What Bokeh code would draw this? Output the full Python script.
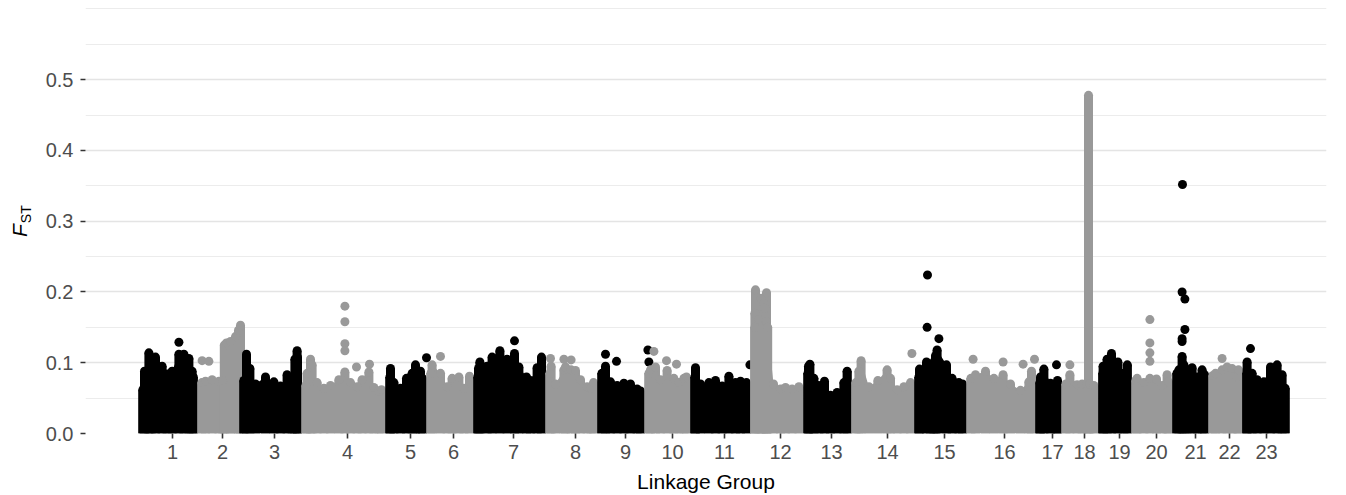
import numpy as np
from bokeh.plotting import figure
from bokeh.models import Range1d, FixedTicker, NumeralTickFormatter, Div
from bokeh.layouts import row
from bokeh.embed import file_html
from bokeh.resources import INLINE

# ---------------- data ----------------
groups = [str(i) for i in range(1, 24)]
# linkage group lengths (Mb)
lg_length = [29.5, 21, 31, 42, 20.5, 23.5, 36, 26, 23.5, 23, 30, 26.5,
             24, 31.5, 26, 34.5, 13, 18.5, 16.5, 20.5, 18, 17, 23.5]
# label position inside each group (Mb from group start)
lg_tick_pos = [17, 12.5, 17.5, 23, 12.5, 13.5, 20, 15, 14, 14, 17, 15,
               14, 18, 15, 19, 8.5, 11.5, 10.5, 12.5, 11.5, 10.5, 12]

# upper edge of the dense SNP cloud in each group (position Mb, Fst)
top_pos = [
    [2.2, 3.0, 5.2, 6.3, 8.5, 11.8, 14.3, 16.8, 20.2, 22.7, 25.2, 26.8, 27.4],
    [2.2, 4, 7.3, 10.7, 12.6, 13.4, 14.5, 16.5, 19, 20.5, 21.5],
    [2.2, 3.5, 5.2, 8, 13, 17.2, 20.5, 23.8, 26.3, 27.7, 28.8, 29.0],
    [2.2, 2.8, 4.5, 5.3, 7.8, 11.2, 14.5, 18.7, 21.7, 24.5, 27.8, 30.3, 33.7, 36.2, 38.7, 40],
    [2.2, 2.5, 4.2, 7.5, 10.5, 13.3, 15, 17.5, 18.5],
    [2.2, 2.8, 7, 10.3, 12.8, 16.2, 18.7, 21.5],
    [2.2, 2.5, 3.2, 6.8, 9.3, 13.2, 16.8, 20.5, 22.7, 26.5, 28.5, 31.8, 34.0],
    [2.2, 2.8, 5, 9.2, 10, 12.8, 15, 17.5, 20.8, 22.8, 24],
    [2.2, 4, 6.5, 9.8, 13.2, 16.5, 19.8, 21.5],
    [2.2, 3, 5.5, 8, 11.3, 14.7, 17.2, 19.7, 21],
    [2.2, 2.5, 5, 9.2, 12.5, 15.8, 19.2, 22.5, 25, 28],
    [2.2, 2.2, 2.5, 4.2, 5.3, 6.7, 7.2, 8.0, 8.0, 8.6, 11.5, 15, 17.5, 20.8, 24.2],
    [2.2, 2.5, 3.2, 5.2, 7.7, 10.5, 13.5, 16.8, 20.2, 21.8],
    [2.2, 3.7, 4.8, 8.7, 13.2, 17.8, 19.5, 22.8, 26.2, 29.5],
    [2.2, 2.5, 6, 8, 9.7, 10.5, 11.3, 16, 18.8, 22.2, 24],
    [2.2, 4.5, 9.5, 13.7, 18.3, 22, 27, 31.2, 32.5],
    [2.2, 2.5, 4.2, 7.5, 10.5, 11.0],
    [2.2, 4.2, 7.8, 10.3, 12.8, 13.5, 14.2, 16.2],
    [2.2, 2.3, 4.3, 6.5, 9.7, 12.7, 14.4],
    [2.2, 2.8, 6.2, 9.2, 12.5, 15.3, 17.8, 18.5],
    [2.2, 3.2, 4.8, 5.7, 7.3, 9.8, 12.3, 14.8, 16],
    [2.2, 3.5, 6.8, 9.3, 11.8, 14.3, 15],
    [2.2, 2.3, 4.8, 7.3, 10.7, 14, 17.3, 19.8, 21.3],
]
top_fst = [
    [0.062, 0.088, 0.114, 0.104, 0.108, 0.095, 0.084, 0.088, 0.112, 0.112, 0.106, 0.088, 0.080],
    [0.072, 0.074, 0.076, 0.074, 0.075, 0.125, 0.128, 0.130, 0.137, 0.146, 0.153],
    [0.075, 0.112, 0.092, 0.070, 0.080, 0.073, 0.067, 0.083, 0.070, 0.105, 0.117, 0.108],
    [0.068, 0.085, 0.105, 0.097, 0.072, 0.064, 0.068, 0.076, 0.087, 0.072, 0.066, 0.076, 0.087, 0.065, 0.060, 0.062],
    [0.080, 0.092, 0.072, 0.064, 0.078, 0.085, 0.097, 0.088, 0.078],
    [0.085, 0.097, 0.085, 0.066, 0.078, 0.080, 0.064, 0.081],
    [0.080, 0.092, 0.101, 0.095, 0.108, 0.117, 0.105, 0.113, 0.094, 0.080, 0.075, 0.093, 0.108],
    [0.085, 0.095, 0.070, 0.090, 0.094, 0.090, 0.089, 0.076, 0.066, 0.064, 0.072],
    [0.085, 0.095, 0.073, 0.068, 0.071, 0.070, 0.063, 0.060],
    [0.085, 0.090, 0.094, 0.076, 0.089, 0.078, 0.072, 0.078, 0.080],
    [0.080, 0.093, 0.070, 0.072, 0.075, 0.067, 0.081, 0.072, 0.074, 0.072],
    [0.150, 0.170, 0.203, 0.161, 0.191, 0.184, 0.177, 0.199, 0.158, 0.150, 0.070, 0.063, 0.065, 0.063, 0.066],
    [0.085, 0.095, 0.098, 0.078, 0.068, 0.074, 0.054, 0.058, 0.072, 0.088],
    [0.072, 0.088, 0.103, 0.066, 0.075, 0.090, 0.078, 0.062, 0.066, 0.072],
    [0.080, 0.091, 0.101, 0.095, 0.101, 0.110, 0.118, 0.097, 0.078, 0.072, 0.070],
    [0.078, 0.083, 0.088, 0.078, 0.083, 0.070, 0.061, 0.073, 0.088],
    [0.072, 0.080, 0.091, 0.071, 0.068, 0.075],
    [0.070, 0.083, 0.069, 0.070, 0.070, 0.478, 0.070, 0.068],
    [0.085, 0.095, 0.105, 0.113, 0.101, 0.085, 0.097],
    [0.075, 0.078, 0.072, 0.078, 0.077, 0.068, 0.083, 0.073],
    [0.085, 0.090, 0.109, 0.097, 0.090, 0.093, 0.080, 0.090, 0.083],
    [0.082, 0.085, 0.090, 0.094, 0.092, 0.080, 0.090],
    [0.085, 0.101, 0.085, 0.076, 0.073, 0.094, 0.097, 0.083, 0.064],
]

# isolated SNPs standing above the cloud (position Mb, Fst)
out_pos = [
    [20.2], [2.3, 5.7], [], [21.7, 21.7, 21.7, 21.7, 27.5, 34.0], [20.5], [7],
    [20.5], [2.5, 9.2, 12.8], [4, 9.5, 25.2, 25.7], [4.7, 11, 16], [29.7], [],
    [], [30.2], [12.2, 6.3, 6.5], [3.3, 18.3, 28.3, 34.0], [10.5], [4.2],
    [], [9.2, 9.2, 9.2, 9.2], [4.8, 4.8, 6.2, 4.8, 6.2, 5.0], [6.8], [4],
]
out_fst = [
    [0.129], [0.103, 0.102], [], [0.180, 0.158, 0.127, 0.117, 0.094, 0.098], [0.107], [0.109],
    [0.131], [0.106, 0.105, 0.104], [0.112, 0.102, 0.118, 0.101], [0.116, 0.103, 0.098], [0.097], [],
    [], [0.113], [0.134, 0.150, 0.224], [0.105, 0.101, 0.098, 0.105], [0.097], [0.097],
    [], [0.161, 0.128, 0.114, 0.102], [0.130, 0.134, 0.147, 0.200, 0.190, 0.352], [0.106], [0.120],
]

y_ticks = [0.0, 0.1, 0.2, 0.3, 0.4, 0.5]
y_minor = [0.05, 0.15, 0.25, 0.35, 0.45, 0.55, 0.6]

# ---------------- figure ----------------
FONT = "Liberation Sans"
BLACK = "#000000"
GREY = "#999999"
LEFT_W = 42

offsets = np.concatenate([[0.0], np.cumsum(lg_length)[:-1]])

p = figure(width=1346 - LEFT_W, height=495, x_range=Range1d(-26.5, 594), y_range=Range1d(0, 0.612),
           output_backend="svg", toolbar_location=None,
           min_border_left=85 - LEFT_W, min_border_right=20, min_border_top=0, min_border_bottom=61,
           margin=(0, 0, 0, 0))
p.outline_line_color = None
p.background_fill_color = "white"
p.border_fill_color = "white"

for i in range(len(groups)):
    col = BLACK if i % 2 == 0 else GREY
    off = offsets[i]
    x = off + np.array(top_pos[i], dtype=float)
    y = np.array(top_fst[i], dtype=float)
    start, end = off, off + lg_length[i]
    xa = np.concatenate([[start], x, [max(end, x[-1])]])
    ya = np.concatenate([[y[0]], y, [y[-1]]])
    p.varea(x=xa, y1=np.zeros_like(ya), y2=ya, fill_color=col)
    p.vbar(x=x, top=y, bottom=0, width=4.5, fill_color=col, line_color=None)
    p.scatter(x=x, y=y, size=9, fill_color=col, line_color=None)
    if out_pos[i]:
        p.scatter(x=off + np.array(out_pos[i], dtype=float), y=out_fst[i], size=9,
                  fill_color=col, line_color=None)

# grid
p.xgrid.visible = False
p.ygrid.ticker = FixedTicker(ticks=y_ticks, minor_ticks=y_minor)
p.ygrid.grid_line_color = "#e4e4e4"
p.ygrid.grid_line_width = 1.6
p.ygrid.minor_grid_line_color = "#ececec"
p.ygrid.minor_grid_line_width = 1.1

# axes
tick_x = [float(offsets[i] + lg_tick_pos[i]) for i in range(len(groups))]
p.xaxis.ticker = FixedTicker(ticks=tick_x)
p.xaxis.major_label_overrides = {t: g for t, g in zip(tick_x, groups)}
p.yaxis.ticker = FixedTicker(ticks=y_ticks)
p.yaxis.formatter = NumeralTickFormatter(format="0.0")

for ax in (p.xaxis[0], p.yaxis[0]):
    ax.axis_line_color = None
    ax.major_tick_line_color = "#333333"
    ax.major_tick_line_width = 1.6
    ax.major_tick_in = 0
    ax.major_tick_out = 5
    ax.minor_tick_line_color = None
    ax.major_label_text_font = FONT
    ax.major_label_text_font_size = "20px"
    ax.major_label_text_color = "#4d4d4d"

p.xaxis.major_label_standoff = 6
p.yaxis.major_label_standoff = 7
p.xaxis.axis_label = "Linkage Group"
p.xaxis.axis_label_text_font = FONT
p.xaxis.axis_label_text_font_size = "21px"
p.xaxis.axis_label_text_font_style = "normal"
p.xaxis.axis_label_text_color = "#000000"
p.xaxis.axis_label_standoff = 8

# y-axis title: italic F with subscript ST (rotated, reading upwards)
ylab = Div(
    width=LEFT_W, height=495, margin=(0, 0, 0, 0),
    text=('<div style="position:absolute; left:9px; top:237px; transform:rotate(-90deg); '
          'transform-origin:left top; white-space:nowrap; font-family:\'Liberation Sans\'; '
          'font-size:21px; line-height:21px; color:#000000;">'
          '<i>F</i><span style="font-size:14px; position:relative; top:4px; margin-left:1px;">ST</span></div>'),
)

layout = row(ylab, p, spacing=0, margin=(0, 0, 0, 0))
open("out.html", "w").write(file_html(layout, INLINE))
